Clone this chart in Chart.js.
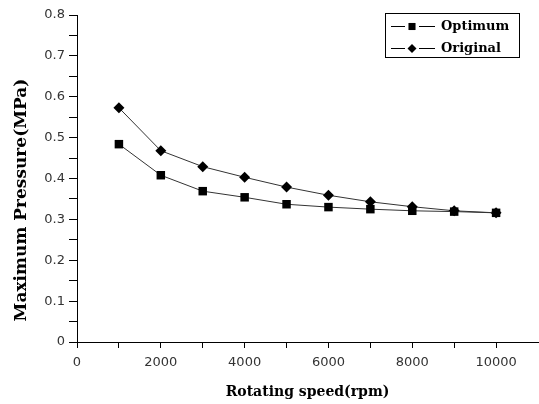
<!DOCTYPE html>
<html>
<head>
<meta charset="utf-8">
<script src="https://cdn.jsdelivr.net/npm/chart.js@4/dist/chart.umd.min.js"></script>
<style>
  html, body { margin: 0; padding: 0; background: #fff; }
  #wrap { width: 539px; height: 404px; }
</style>
</head>
<body>
<div id="wrap"><canvas id="canvas"></canvas></div>
<script>
// rotating speed (rpm)
var speeds = [1000, 2000, 3000, 4000, 5000, 6000, 7000, 8000, 9000, 10000];
// maximum pressure (MPa)
var optimum = [0.484, 0.408, 0.369, 0.354, 0.337, 0.330, 0.325, 0.321, 0.319, 0.316];
var original = [0.573, 0.468, 0.429, 0.403, 0.379, 0.359, 0.343, 0.331, 0.321, 0.316];
var seriesNames = ["Optimum", "Original"];
var xTitle = 'Rotating speed(rpm)';
var yTitle = 'Maximum Pressure(MPa)';

function pts(vals) {
    return speeds.map(function (s, i) { return { x: s, y: vals[i] }; });
}

var serif = "'DejaVu Serif', 'Liberation Serif', serif";

// the x axis runs to the right edge of the figure in the original
var stretchRight = {
    id: 'stretchRight',
    afterLayout: function (chart) {
        var right = chart.width - 1;
        var xs = chart.scales.x;
        chart.chartArea.right = right;
        chart.chartArea.width = right - chart.chartArea.left;
        xs.right = right;
        xs.width = right - xs.left;
        xs.configure();
    }
};

// legend drawn as a framed box, like the original figure; y title sits a bit low in the original
var extras = {
    id: 'extras',
    afterDraw: function (chart) {
        var ctx = chart.ctx;
        var x = 385, y = 13, w = 134, h = 44;
        ctx.save();
        ctx.strokeStyle = '#000';
        ctx.lineWidth = 1;
        ctx.strokeRect(x + 0.5, y + 0.5, w, h);
        chart.data.datasets.forEach(function (ds, i) {
            var cy = y + 13 + i * 22;
            ctx.beginPath();
            ctx.moveTo(x + 6, cy + 0.5);
            ctx.lineTo(x + 20, cy + 0.5);
            ctx.moveTo(x + 34, cy + 0.5);
            ctx.lineTo(x + 50, cy + 0.5);
            ctx.strokeStyle = '#000';
            ctx.stroke();
            ctx.fillStyle = '#000';
            Chart.helpers.drawPoint(ctx, {
                pointStyle: ds.pointStyle,
                radius: ds.pointStyle === 'rect' ? 5 : 4.5,
                borderWidth: 0
            }, x + 27, cy + 0.5);
            ctx.font = "bold 13px " + serif;
            ctx.textBaseline = 'middle';
            ctx.fillText(ds.label, x + 56, cy + 1);
        });

        ctx.translate(22, 200);
        ctx.rotate(-Math.PI / 2);
        ctx.font = "bold 17px " + serif;
        ctx.textAlign = 'center';
        ctx.textBaseline = 'middle';
        ctx.fillText(yTitle, 0, 0);
        ctx.restore();
    }
};

var config = {
    type: 'line',
    data: {
        datasets: [{
            label: seriesNames[0],
            data: pts(optimum),
            borderColor: '#333',
            borderWidth: 1,
            backgroundColor: '#000',
            pointStyle: 'rect',
            pointRadius: 6,
            pointBorderWidth: 0,
            pointBackgroundColor: '#000',
            tension: 0
        }, {
            label: seriesNames[1],
            data: pts(original),
            borderColor: '#333',
            borderWidth: 1,
            backgroundColor: '#000',
            pointStyle: 'rectRot',
            pointRadius: 5.5,
            pointBorderWidth: 0,
            pointBackgroundColor: '#000',
            tension: 0
        }]
    },
    options: {
        responsive: true,
        maintainAspectRatio: false,
        animation: false,
        layout: { padding: { left: 0, right: 1, top: 15, bottom: 0 } },
        plugins: {
            legend: { display: false },
            tooltip: { enabled: false }
        },
        scales: {
            x: {
                type: 'linear',
                min: 0,
                max: 11000,
                afterFit: function (scale) { scale.height = 62; },
                border: { display: true, color: '#000', width: 1 },
                grid: {
                    drawOnChartArea: false,
                    drawTicks: true,
                    tickLength: 6,
                    color: function (c) { return c.tick && c.tick.value === 11000 ? 'rgba(0,0,0,0)' : '#000'; }
                },
                ticks: {
                    stepSize: 1000,
                    autoSkip: false,
                    maxRotation: 0,
                    padding: 7,
                    color: '#333',
                    font: { family: "'DejaVu Sans', sans-serif", size: 13 },
                    callback: function (v) { return (v % 2000 === 0 && v <= 10000) ? String(v) : ''; }
                },
                title: {
                    display: true,
                    text: xTitle,
                    color: '#000',
                    font: { family: serif, size: 14, weight: 'bold' },
                    padding: { top: 3, bottom: 3 }
                }
            },
            y: {
                min: 0,
                max: 0.8,
                afterFit: function (scale) { scale.width = 77; },
                border: { display: true, color: '#000', width: 1 },
                grid: {
                    drawOnChartArea: false,
                    drawTicks: true,
                    tickLength: 8,
                    color: '#000'
                },
                ticks: {
                    stepSize: 0.05,
                    autoSkip: false,
                    padding: 4,
                    color: '#333',
                    font: { family: "'DejaVu Sans', sans-serif", size: 13 },
                    callback: function (v) {
                        var r = Math.round(v * 100);
                        if (r % 10 !== 0) return '';
                        return r === 0 ? '0' : (r / 100).toFixed(1);
                    }
                },
                title: { display: false }
            }
        }
    },
    plugins: [stretchRight, extras]
};

window.onload = function () {
    window.myLine = new Chart(document.getElementById('canvas'), config);
};
</script>
</body>
</html>
